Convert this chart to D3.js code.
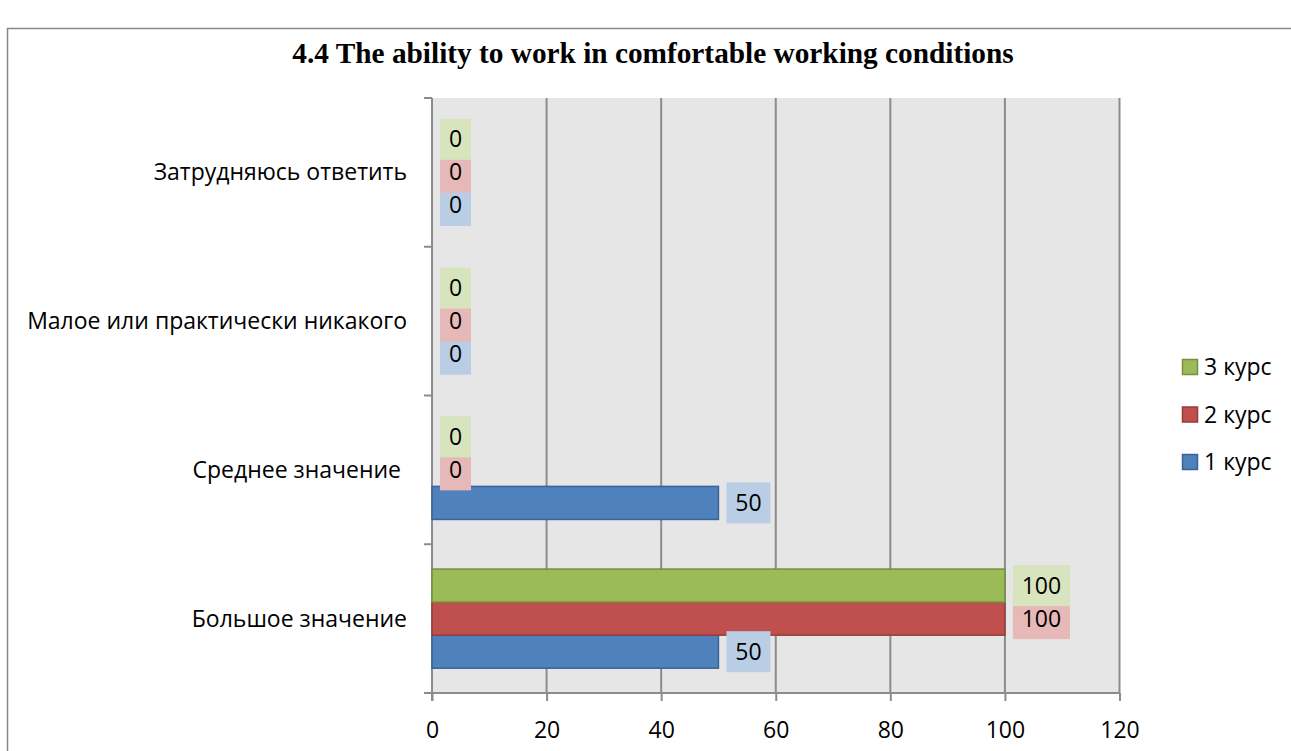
<!DOCTYPE html>
<html><head><meta charset="utf-8">
<script src="https://cdn.jsdelivr.net/npm/d3@7"></script>
<style>body{margin:0;background:#fff}svg{display:block}</style>
</head><body><svg id="c" width="1291" height="751"></svg>
<script>
const title = "4.4 The ability to work in comfortable working conditions";
const categories = ["Большое значение", "Среднее значение ", "Малое или практически никакого", "Затрудняюсь ответить"];
const seriesNames = ["1 курс", "2 курс", "3 курс"];
const course1 = [50, 50, 0, 0];
const course2 = [100, 0, 0, 0];
const course3 = [100, 0, 0, 0];
const xTicks = [0, 20, 40, 60, 80, 100, 120];
const colors = ["#4f81bd", "#c0504d", "#9bbb59"];
const strokes = ["#3a6494", "#943c3a", "#76903f"];
const labelFills = ["#b9cde5", "#e6b9b8", "#d7e4bd"];
const series = [course1, course2, course3];

const svg = d3.select("#c");
const font = "'Open Sans', Lato, sans-serif";
const fs = 23;
const L = 432, R = 1119.5, T = 98, B = 693;

svg.append("rect").attr("x", 7.5).attr("y", 28.5).attr("width", 1295).attr("height", 740)
  .attr("fill", "#fff").attr("stroke", "#878787").attr("stroke-width", 1.5);

svg.append("text").attr("x", 653).attr("y", 63).attr("text-anchor", "middle")
  .attr("font-family", "'Liberation Serif', 'Times New Roman', serif").attr("font-weight", "bold")
  .attr("font-size", 29.3).text(title);

const x = d3.scaleLinear().domain([0, 120]).range([L, R]);
const y = d3.scaleBand().domain(categories.slice().reverse()).range([T, B]);

svg.append("rect").attr("x", L).attr("y", T).attr("width", R - L).attr("height", B - T).attr("fill", "#e6e6e6");

svg.append("g").selectAll("line").data(xTicks.slice(1)).join("line")
  .attr("x1", d => x(d)).attr("x2", d => x(d)).attr("y1", T).attr("y2", B)
  .attr("stroke", "#8c8c8c").attr("stroke-width", 2);

const xAxis = svg.append("g").attr("transform", `translate(0,${B})`)
  .call(d3.axisBottom(x).tickValues(xTicks).tickSize(8).tickPadding(14));
xAxis.select(".domain").attr("d", `M${L - 8},0H${R}`).attr("stroke", "#8c8c8c").attr("stroke-width", 2);
xAxis.selectAll(".tick line").attr("stroke", "#8c8c8c").attr("stroke-width", 2);
xAxis.selectAll(".tick text").attr("font-family", font).attr("font-size", fs).attr("fill", "#000")
  .attr("y", 37).attr("dy", "0.35em");

const yTicks = [T, T + y.step(), T + 2 * y.step(), T + 3 * y.step(), B];
svg.append("line").attr("x1", L).attr("x2", L).attr("y1", T).attr("y2", B + 8)
  .attr("stroke", "#8c8c8c").attr("stroke-width", 2);
svg.append("g").selectAll("line").data(yTicks).join("line")
  .attr("x1", L - 8).attr("x2", L).attr("y1", d => d).attr("y2", d => d)
  .attr("stroke", "#8c8c8c").attr("stroke-width", 2);

svg.append("g").selectAll("text").data(categories).join("text")
  .attr("x", 407).attr("y", d => y(d) + y.bandwidth() / 2).attr("dy", "0.35em")
  .attr("text-anchor", "end").attr("font-family", font).attr("font-size", fs)
  .attr("xml:space", "preserve").style("white-space", "pre").text(d => d);

const bh = y.bandwidth() / 4.5;
function barY(ci, si) { return y(categories[ci]) + y.bandwidth() / 2 - 1.5 * bh + (2 - si) * bh; }
series.forEach((vals, si) => {
  svg.append("g").selectAll("rect").data(vals.map((v, i) => ({ v, i })).filter(d => d.v > 0)).join("rect")
    .attr("x", x(0)).attr("y", d => barY(d.i, si)).attr("width", d => x(d.v) - x(0)).attr("height", bh)
    .attr("fill", colors[si]).attr("stroke", strokes[si]).attr("stroke-width", 1.5);
});

series.forEach((vals, si) => {
  const g = svg.append("g");
  vals.forEach((v, i) => {
    const txt = String(v);
    const w = 18 + txt.length * 13;
    const cy = barY(i, si) + bh / 2;
    const bx = x(v) + 8;
    g.append("rect").attr("x", bx).attr("y", cy - 20.5).attr("width", w).attr("height", 41).attr("fill", labelFills[si]);
    g.append("text").attr("x", bx + w / 2).attr("y", cy).attr("dy", "0.35em").attr("text-anchor", "middle")
      .attr("font-family", font).attr("font-size", fs).text(txt);
  });
});

const leg = svg.append("g");
[2, 1, 0].forEach((si, k) => {
  const ly = 367 + k * 47.5;
  leg.append("rect").attr("x", 1182.5).attr("y", ly - 7.5).attr("width", 15).attr("height", 15)
    .attr("fill", colors[si]).attr("stroke", strokes[si]).attr("stroke-width", 1.5);
  leg.append("text").attr("x", 1204).attr("y", ly).attr("dy", "0.35em")
    .attr("font-family", font).attr("font-size", fs).text(seriesNames[si]);
});
</script></body></html>
